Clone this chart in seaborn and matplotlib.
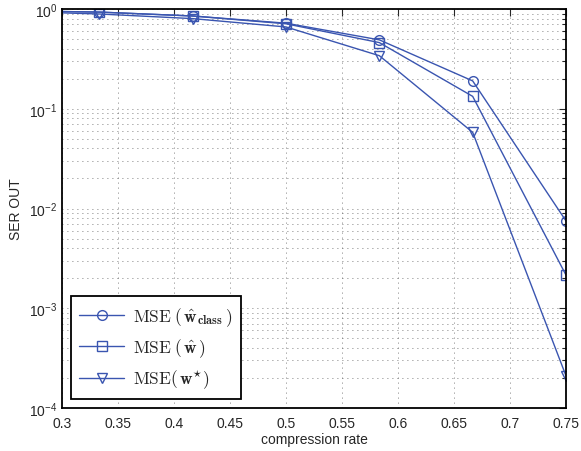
import matplotlib
matplotlib.use("Agg")
import matplotlib.pyplot as plt
import pandas as pd
import seaborn as sns

rate = [0.25, 1 / 3, 5 / 12, 0.5, 7 / 12, 2 / 3, 0.75]
mse_class = [0.96, 0.93, 0.85, 0.72, 0.49, 0.19, 0.0075]
mse_hat = [0.96, 0.93, 0.85, 0.71, 0.46, 0.133, 0.00215]
mse_star = [0.95, 0.89, 0.80, 0.66, 0.34, 0.058, 0.00021]

labels = [
    r"$\mathrm{MSE}\;(\,\hat{\mathbf{w}}_{\mathbf{class}}\,)$",
    r"$\mathrm{MSE}\;(\,\hat{\mathbf{w}}\,)$",
    r"$\mathrm{MSE}(\,\mathbf{w}^{\star})$",
]
markers = ["o", "s", "v"]

sns.set_style("white")
plt.rcParams["font.family"] = ["Liberation Sans", "DejaVu Sans"]
plt.rcParams["mathtext.fontset"] = "cm"

blue = "#3a55b0"
fig = plt.figure(figsize=(5.81, 4.52), dpi=100)
ax = fig.add_axes([0.1067, 0.095, 0.8675, 0.883])

for vals, lab, mk in zip([mse_class, mse_hat, mse_star], labels, markers):
    df = pd.DataFrame({"rate": rate, "ser": vals})
    sns.lineplot(data=df, x="rate", y="ser", ax=ax, color=blue, lw=1.0,
                 marker=mk, markersize=7, markerfacecolor="none",
                 markeredgecolor=blue, markeredgewidth=1.0, label=lab)

ax.set_yscale("log")
ax.set_xlim(0.3, 0.75)
ax.set_ylim(1e-4, 1)
ax.set_xticks([0.3, 0.35, 0.4, 0.45, 0.5, 0.55, 0.6, 0.65, 0.7, 0.75])
ax.set_xticklabels(["0.3", "0.35", "0.4", "0.45", "0.5", "0.55", "0.6",
                    "0.65", "0.7", "0.75"])
grid_kw = dict(color="#555555", linestyle=(0, (1, 5)), lw=0.6)
ax.grid(True, which="major", **grid_kw)
ax.grid(True, which="minor", axis="y", **grid_kw)
ax.tick_params(which="both", direction="in", top=True, right=True,
               labelsize=10, length=5, width=0.8)
ax.tick_params(which="minor", length=3)
ax.tick_params(axis="x", pad=6)
for sp in ax.spines.values():
    sp.set_color("black")
    sp.set_linewidth(1.3)

ax.set_xlabel("compression rate", fontsize=10, labelpad=1)
ax.set_ylabel("SER OUT", fontsize=10, labelpad=4)

leg = ax.legend(loc="lower left", fontsize=12.5, handlelength=2.6,
                labelspacing=0.5, borderaxespad=0.5, fancybox=False,
                framealpha=1, borderpad=0.5, handletextpad=0.5)
leg.get_frame().set_edgecolor("black")
leg.get_frame().set_linewidth(1.3)

fig.savefig("out.png", dpi=100)
